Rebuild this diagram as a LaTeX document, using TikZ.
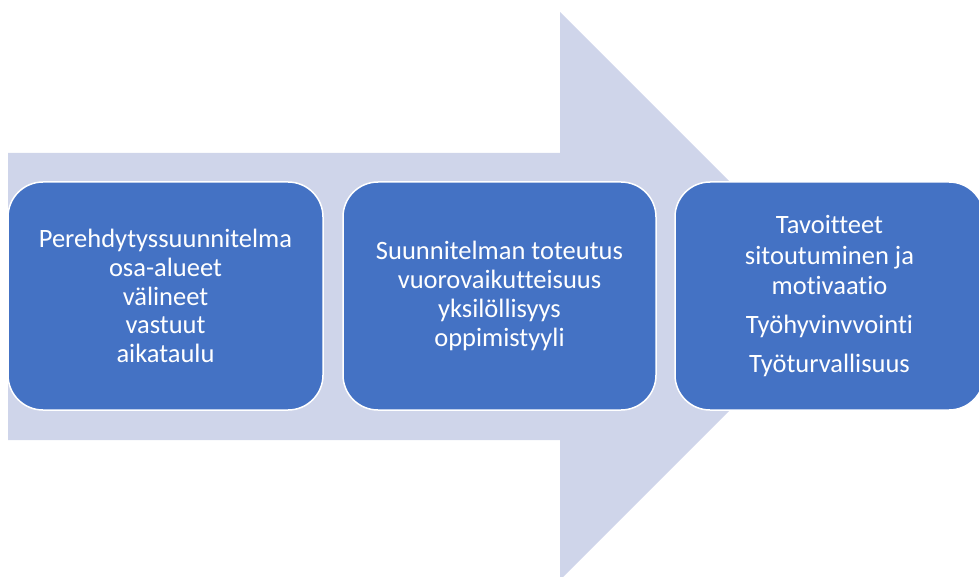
\documentclass[tikz,border=0pt]{standalone}
\usepackage{fontspec}
\setmainfont[Ligatures={NoCommon}]{Carlito}
\usetikzlibrary{positioning}
\definecolor{arrowbg}{HTML}{CFD5EA}
\definecolor{boxblue}{HTML}{4472C4}
\tikzstyle{stepbox}=[shape=rectangle, rounded corners=35pt, fill=boxblue, draw=white, line width=1.5pt, text=white, align=center, minimum width=313pt, minimum height=228pt, font=\fontsize{26.5}{28.8}\selectfont]

\begin{document}
\begin{tikzpicture}[x=1pt,y=-1pt]
\useasboundingbox (0,0) rectangle (979,577);
\fill[arrowbg] (8,153) -- (560,153) -- (560,12) -- (844,296) -- (560,580) -- (560,440) -- (8,440) -- cycle;

\node (plan) [stepbox, minimum width=315pt] at (165.5,296) {Perehdytyssuunnitelma\\osa-alueet\\välineet\\vastuut\\aikataulu};
\node (toteutus) [stepbox] at (499.5,296) {Suunnitelman toteutus\\vuorovaikutteisuus\\yksilöllisyys\\oppimistyyli};
\node (tavoite) [stepbox, minimum width=309pt] at (829.5,296) {Tavoitteet\\[1.5pt]sitoutuminen ja\\[1.5pt]motivaatio\\[10pt]Työhyvinvvointi\\[10pt]Työturvallisuus};

\end{tikzpicture}
\end{document}
